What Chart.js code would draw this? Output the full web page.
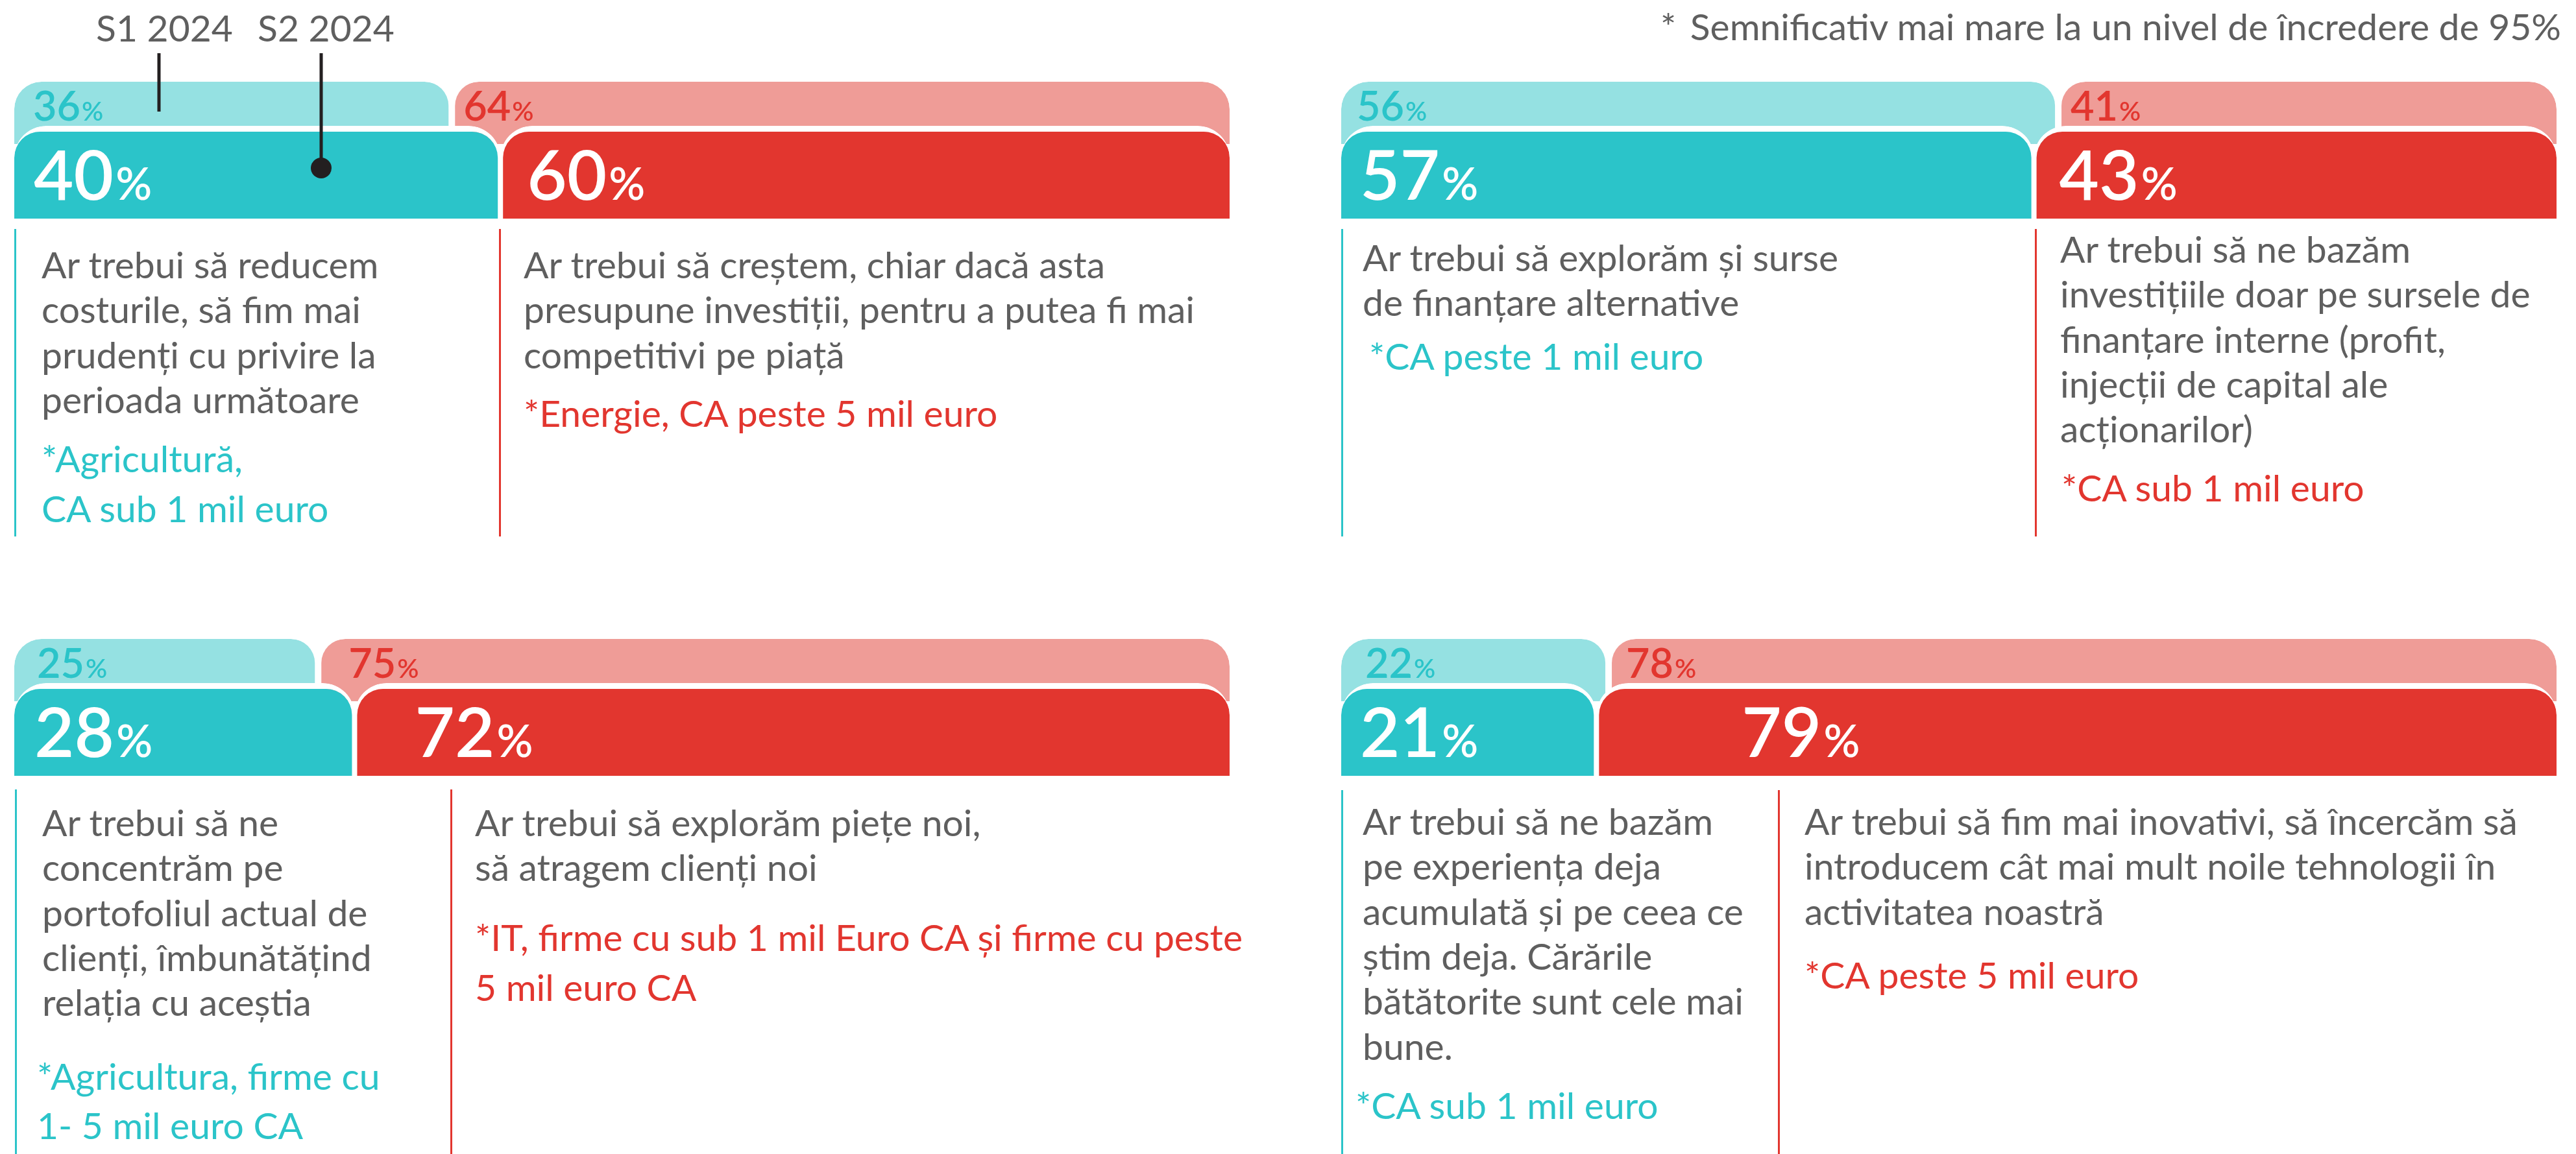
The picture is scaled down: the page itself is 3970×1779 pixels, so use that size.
<!DOCTYPE html>
<html lang="ro">
<head>
<meta charset="utf-8">
<title>S1 2024 vs S2 2024</title>
<script src="https://cdn.jsdelivr.net/npm/chart.js@4.4.1/dist/chart.umd.min.js"></script>
<style>
  html, body { margin: 0; padding: 0; background: #fff; }
  body { position: relative; width: 3970px; height: 1779px; overflow: hidden; }
  canvas { position: absolute; z-index: 1; }
  #overlay { position: absolute; left: 0; top: 0; z-index: 2; pointer-events: none; }
</style>
</head>
<body>
<svg id="overlay" width="3970" height="1779" xmlns="http://www.w3.org/2000/svg"></svg>
<script>
// shares in %, panels in reading order: top-left, top-right, bottom-left, bottom-right
const seriesNames = ['S1 2024', 'S2 2024'];
const tealS1 = [36, 56, 25, 22];
const redS1 = [64, 41, 75, 78];
const tealS2 = [40, 57, 28, 21];
const redS2 = [60, 43, 72, 79];

const TEAL = '#2bc4c9';
const TEAL_LIGHT = '#95e1e2';
const RED = '#e2362f';
const RED_LIGHT = '#ef9c97';
const GREY = '#5f5f5f';
const INK = '#231f20';
const FONT = 'Lato, "Open Sans", sans-serif';

// where each panel sits on the page, and where its % labels start inside the bars
const panelBox = [
  { left: 22, right: 1895, top: 126, shift: [[29, 18], [30, 41]] },
  { left: 2067, right: 3940, top: 126, shift: [[24, 19], [29, 39]] },
  { left: 22, right: 1895, top: 985, shift: [[35, 47], [31, 93]] },
  { left: 2067, right: 3940, top: 985, shift: [[37, 27], [29, 224]] }
];

// percent labels drawn inside the bars
const pctLabels = {
  id: 'pctLabels',
  afterDatasetsDraw(chart) {
    const ctx = chart.ctx;
    chart.data.datasets.forEach((ds, d) => {
      const el = chart.getDatasetMeta(d).data[ds.row];
      if (!el) return;
      const left = Math.min(el.x, el.base);
      const top = el.y - el.height / 2;
      const bottom = el.y + el.height / 2;
      const big = ds.row === 0 ? 63 : 106;
      const y = ds.row === 0 ? top + 60 : bottom - 29;
      const x = left + ds.labelShift;
      const num = String(ds.pct);
      ctx.save();
      ctx.fillStyle = ds.labelColor;
      ctx.textBaseline = 'alphabetic';
      ctx.font = `600 ${big}px ${FONT}`;
      ctx.fillText(num, x, y);
      const w = ctx.measureText(num).width;
      ctx.font = `600 ${Math.round(big * 0.65)}px ${FONT}`;
      ctx.fillText('%', x + w + big * 0.03, y);
      ctx.restore();
    });
  }
};

function makePanel(i) {
  const box = panelBox[i];
  const canvas = document.createElement('canvas');
  const w = box.right - box.left + 8;
  const h = 220;
  canvas.width = w;
  canvas.height = h;
  canvas.style.left = (box.left - 4) + 'px';
  canvas.style.top = (box.top - 4) + 'px';
  canvas.style.width = w + 'px';
  canvas.style.height = h + 'px';
  document.body.appendChild(canvas);

  const r1 = { topLeft: 42, topRight: 42, bottomLeft: 0, bottomRight: 0 };
  const r2 = { topLeft: 49, topRight: 49, bottomLeft: 0, bottomRight: 0 };
  // red is laid from the right edge, teal fills the rest (as in the original)
  const datasets = [
    { row: 1, pct: tealS2[i], labelColor: '#fff', labelShift: box.shift[1][0],
      data: [null, [0, 100 - redS2[i]]], backgroundColor: TEAL, barThickness: 143,
      borderColor: '#fff', borderWidth: { top: 9, right: 4, bottom: 0, left: 0 }, borderRadius: r2 },
    { row: 1, pct: redS2[i], labelColor: '#fff', labelShift: box.shift[1][1],
      data: [null, [100 - redS2[i], 100]], backgroundColor: RED, barThickness: 143,
      borderColor: '#fff', borderWidth: { top: 9, right: 0, bottom: 0, left: 4 }, borderRadius: r2 },
    { row: 0, pct: tealS1[i], labelColor: TEAL, labelShift: box.shift[0][0],
      data: [[0, 100 - redS1[i]], null], backgroundColor: TEAL_LIGHT, barThickness: 96,
      borderColor: '#fff', borderWidth: { top: 0, right: 5, bottom: 0, left: 0 }, borderRadius: r1 },
    { row: 0, pct: redS1[i], labelColor: RED, labelShift: box.shift[0][1],
      data: [[100 - redS1[i], 100], null], backgroundColor: RED_LIGHT, barThickness: 96,
      borderColor: '#fff', borderWidth: { top: 0, right: 0, bottom: 0, left: 5 }, borderRadius: r1 }
  ];
  datasets.forEach(ds => { ds.borderSkipped = false; ds.inflateAmount = 0; ds.clip = false; });

  new Chart(canvas, {
    type: 'bar',
    data: { labels: seriesNames, datasets },
    options: {
      indexAxis: 'y',
      responsive: false,
      animation: false,
      devicePixelRatio: 1,
      events: [],
      layout: { padding: { left: 4, right: 4, top: 6.25, bottom: 30.75 } },
      plugins: { legend: { display: false }, tooltip: { enabled: false } },
      scales: {
        x: { display: false, min: 0, max: 100 },
        y: { display: false, stacked: true, offset: true }
      }
    },
    plugins: [pctLabels]
  });
}

[0, 1, 2, 3].forEach(makePanel);

// texts under the bars
const blocks = [
  { x: 64, y: 429, lh: 69.3, fill: GREY, lines: ['Ar trebui să reducem', 'costurile, să fim mai', 'prudenți cu privire la', 'perioada următoare'] },
  { x: 64, y: 728, lh: 77, fill: TEAL, lines: ['*Agricultură,', 'CA sub 1 mil euro'] },
  { x: 807, y: 429, lh: 69.3, fill: GREY, lines: ['Ar trebui să creștem, chiar dacă asta', 'presupune investiții, pentru a putea fi mai', 'competitivi pe piață'] },
  { x: 807, y: 658, lh: 77, fill: RED, lines: ['*Energie, CA peste 5 mil euro'] },
  { x: 2100, y: 418, lh: 69.3, fill: GREY, lines: ['Ar trebui să explorăm și surse', 'de finanțare alternative'] },
  { x: 2110, y: 570, lh: 77, fill: TEAL, lines: ['*CA peste 1 mil euro'] },
  { x: 3175, y: 405, lh: 69.3, fill: GREY, lines: ['Ar trebui să ne bazăm', 'investițiile doar pe sursele de', 'finanțare interne (profit,', 'injecții de capital ale', 'acționarilor)'] },
  { x: 3177, y: 773, lh: 77, fill: RED, lines: ['*CA sub 1 mil euro'] },
  { x: 65, y: 1289, lh: 69.3, fill: GREY, lines: ['Ar trebui să ne', 'concentrăm pe', 'portofoliul actual de', 'clienți, îmbunătățind', 'relația cu aceștia'] },
  { x: 57, y: 1680, lh: 76, fill: TEAL, lines: ['*Agricultura, firme cu', '1- 5 mil euro CA'] },
  { x: 732, y: 1289, lh: 69.3, fill: GREY, lines: ['Ar trebui să explorăm piețe noi,', 'să atragem clienți noi'] },
  { x: 732, y: 1466, lh: 77, fill: RED, lines: ['*IT, firme cu sub 1 mil Euro CA și firme cu peste', '5 mil euro CA'] },
  { x: 2100, y: 1287, lh: 69.3, fill: GREY, lines: ['Ar trebui să ne bazăm', 'pe experiența deja', 'acumulată și pe ceea ce', 'știm deja. Cărările', 'bătătorite sunt cele mai', 'bune.'] },
  { x: 2089, y: 1725, lh: 77, fill: TEAL, lines: ['*CA sub 1 mil euro'] },
  { x: 2781, y: 1287, lh: 69.3, fill: GREY, lines: ['Ar trebui să fim mai inovativi, să încercăm să', 'introducem cât mai mult noile tehnologii în', 'activitatea noastră'] },
  { x: 2781, y: 1524, lh: 77, fill: RED, lines: ['*CA peste 5 mil euro'] },
  // legend and footnote
  { x: 148, y: 64, lh: 0, fill: GREY, lines: [seriesNames[0]] },
  { x: 397, y: 64, lh: 0, fill: GREY, lines: [seriesNames[1]] },
  { x: 2559, y: 62, lh: 0, fill: GREY, lines: ['*'] },
  { x: 3947, y: 62, lh: 0, fill: GREY, anchor: 'end', lines: ['Semnificativ mai mare la un nivel de încredere de 95%'] }
];

// coloured rules at the left of each text column
const rules = [
  { x: 22, y1: 353, y2: 827, c: TEAL }, { x: 769, y1: 353, y2: 827, c: RED },
  { x: 2067, y1: 353, y2: 827, c: TEAL }, { x: 3136, y1: 353, y2: 827, c: RED },
  { x: 23, y1: 1217, y2: 1779, c: TEAL }, { x: 694, y1: 1217, y2: 1779, c: RED },
  { x: 2067, y1: 1218, y2: 1779, c: TEAL }, { x: 2740, y1: 1218, y2: 1779, c: RED }
];

const svg = document.getElementById('overlay');
const NS = 'http://www.w3.org/2000/svg';
function add(tag, attrs) {
  const el = document.createElementNS(NS, tag);
  Object.entries(attrs).forEach(([k, v]) => el.setAttribute(k, v));
  svg.appendChild(el);
  return el;
}

rules.forEach(r => add('rect', { x: r.x, y: r.y1, width: 3, height: r.y2 - r.y1, fill: r.c }));

blocks.forEach(b => {
  b.lines.forEach((line, k) => {
    const t = add('text', {
      x: b.x, y: b.y + k * b.lh, fill: b.fill,
      'font-family': FONT, 'font-size': 57,
      'text-anchor': b.anchor || 'start'
    });
    t.textContent = line;
  });
});

// leader lines from the legend into the bars
add('line', { x1: 245, y1: 82, x2: 245, y2: 172, stroke: INK, 'stroke-width': 5 });
add('line', { x1: 495, y1: 82, x2: 495, y2: 258, stroke: INK, 'stroke-width': 5 });
add('circle', { cx: 495, cy: 259, r: 16, fill: INK });
</script>
</body>
</html>
